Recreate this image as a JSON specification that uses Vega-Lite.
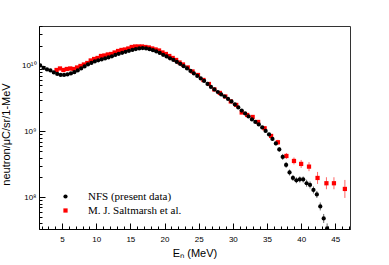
{
  "$schema": "https://vega.github.io/schema/vega-lite/v6.json",
  "width": 311,
  "height": 203,
  "autosize": {"type": "none"},
  "padding": {"left": 39, "top": 26, "right": 39, "bottom": 36},
  "background": "white",
  "config": {
    "view": {"stroke": "#333", "strokeWidth": 1},
    "axis": {"labelFont": "Liberation Sans", "titleFont": "Liberation Sans", "labelColor": "black", "titleColor": "black", "tickColor": "black", "domainColor": "black", "grid": false, "titleFontWeight": "normal"}
  },
  "data": {"values": [
    {"s": "M. J. Saltmarsh et al.", "E": 4.2, "v": 8.60e9},
    {"s": "M. J. Saltmarsh et al.", "E": 4.7, "v": 9.07e9},
    {"s": "M. J. Saltmarsh et al.", "E": 5.2, "v": 8.60e9},
    {"s": "M. J. Saltmarsh et al.", "E": 5.7, "v": 8.91e9},
    {"s": "M. J. Saltmarsh et al.", "E": 6.2, "v": 9.07e9},
    {"s": "M. J. Saltmarsh et al.", "E": 6.7, "v": 8.91e9},
    {"s": "M. J. Saltmarsh et al.", "E": 7.2, "v": 9.39e9},
    {"s": "M. J. Saltmarsh et al.", "E": 7.7, "v": 9.90e9},
    {"s": "M. J. Saltmarsh et al.", "E": 8.2, "v": 1.043e10},
    {"s": "M. J. Saltmarsh et al.", "E": 8.7, "v": 1.099e10},
    {"s": "M. J. Saltmarsh et al.", "E": 9.2, "v": 1.200e10},
    {"s": "M. J. Saltmarsh et al.", "E": 9.7, "v": 1.264e10},
    {"s": "M. J. Saltmarsh et al.", "E": 10.2, "v": 1.309e10},
    {"s": "M. J. Saltmarsh et al.", "E": 10.7, "v": 1.404e10},
    {"s": "M. J. Saltmarsh et al.", "E": 11.2, "v": 1.429e10},
    {"s": "M. J. Saltmarsh et al.", "E": 11.7, "v": 1.480e10},
    {"s": "M. J. Saltmarsh et al.", "E": 12.2, "v": 1.506e10},
    {"s": "M. J. Saltmarsh et al.", "E": 12.7, "v": 1.587e10},
    {"s": "M. J. Saltmarsh et al.", "E": 13.2, "v": 1.673e10},
    {"s": "M. J. Saltmarsh et al.", "E": 13.7, "v": 1.733e10},
    {"s": "M. J. Saltmarsh et al.", "E": 14.2, "v": 1.763e10},
    {"s": "M. J. Saltmarsh et al.", "E": 14.7, "v": 1.826e10},
    {"s": "M. J. Saltmarsh et al.", "E": 15.2, "v": 1.924e10},
    {"s": "M. J. Saltmarsh et al.", "E": 15.7, "v": 1.958e10},
    {"s": "M. J. Saltmarsh et al.", "E": 16.2, "v": 1.958e10},
    {"s": "M. J. Saltmarsh et al.", "E": 16.7, "v": 1.958e10},
    {"s": "M. J. Saltmarsh et al.", "E": 17.2, "v": 1.924e10},
    {"s": "M. J. Saltmarsh et al.", "E": 17.7, "v": 1.891e10},
    {"s": "M. J. Saltmarsh et al.", "E": 18.2, "v": 1.826e10},
    {"s": "M. J. Saltmarsh et al.", "E": 18.7, "v": 1.763e10},
    {"s": "M. J. Saltmarsh et al.", "E": 19.2, "v": 1.702e10},
    {"s": "M. J. Saltmarsh et al.", "E": 19.7, "v": 1.587e10},
    {"s": "M. J. Saltmarsh et al.", "E": 20.2, "v": 1.506e10},
    {"s": "M. J. Saltmarsh et al.", "E": 20.7, "v": 1.404e10},
    {"s": "M. J. Saltmarsh et al.", "E": 21.2, "v": 1.309e10},
    {"s": "M. J. Saltmarsh et al.", "E": 21.7, "v": 1.221e10},
    {"s": "M. J. Saltmarsh et al.", "E": 22.2, "v": 1.118e10},
    {"s": "M. J. Saltmarsh et al.", "E": 22.7, "v": 1.043e10},
    {"s": "M. J. Saltmarsh et al.", "E": 23.4, "v": 9.39e9},
    {"s": "M. J. Saltmarsh et al.", "E": 24.1, "v": 8.16e9},
    {"s": "M. J. Saltmarsh et al.", "E": 24.9, "v": 7.22e9},
    {"s": "M. J. Saltmarsh et al.", "E": 25.7, "v": 6.06e9},
    {"s": "M. J. Saltmarsh et al.", "E": 26.5, "v": 5.27e9},
    {"s": "M. J. Saltmarsh et al.", "E": 27.3, "v": 4.35e9},
    {"s": "M. J. Saltmarsh et al.", "E": 28.1, "v": 3.85e9},
    {"s": "M. J. Saltmarsh et al.", "E": 28.9, "v": 3.40e9},
    {"s": "M. J. Saltmarsh et al.", "E": 29.7, "v": 2.86e9},
    {"s": "M. J. Saltmarsh et al.", "E": 30.5, "v": 2.53e9},
    {"s": "M. J. Saltmarsh et al.", "E": 31.3, "v": 1.943e9},
    {"s": "M. J. Saltmarsh et al.", "E": 32.1, "v": 1.781e9},
    {"s": "M. J. Saltmarsh et al.", "E": 32.9, "v": 1.661e9},
    {"s": "M. J. Saltmarsh et al.", "E": 33.7, "v": 1.394e9},
    {"s": "M. J. Saltmarsh et al.", "E": 34.65, "v": 1.118e9},
    {"s": "M. J. Saltmarsh et al.", "E": 35.6, "v": 8.54e8},
    {"s": "M. J. Saltmarsh et al.", "E": 36.6, "v": 6.85e8, "lo": 6.28e8, "hi": 7.47e8},
    {"s": "M. J. Saltmarsh et al.", "E": 37.84, "v": 4.24e8, "lo": 3.82e8, "hi": 4.71e8},
    {"s": "M. J. Saltmarsh et al.", "E": 38.95, "v": 3.56e8, "lo": 3.15e8, "hi": 4.02e8},
    {"s": "M. J. Saltmarsh et al.", "E": 40.0, "v": 3.21e8, "lo": 2.79e8, "hi": 3.69e8},
    {"s": "M. J. Saltmarsh et al.", "E": 41.15, "v": 2.92e8, "lo": 2.49e8, "hi": 3.42e8},
    {"s": "M. J. Saltmarsh et al.", "E": 42.4, "v": 1.964e8, "lo": 1.592e8, "hi": 2.424e8},
    {"s": "M. J. Saltmarsh et al.", "E": 43.7, "v": 1.632e8, "lo": 1.323e8, "hi": 2.014e8},
    {"s": "M. J. Saltmarsh et al.", "E": 44.8, "v": 1.632e8, "lo": 1.323e8, "hi": 2.014e8},
    {"s": "M. J. Saltmarsh et al.", "E": 46.4, "v": 1.337e8, "lo": 0.976e8, "hi": 1.832e8},
    {"s": "NFS (present data)", "E": 1.8, "v": 1.007e10},
    {"s": "NFS (present data)", "E": 2.3, "v": 9.23e9},
    {"s": "NFS (present data)", "E": 2.8, "v": 8.75e9},
    {"s": "NFS (present data)", "E": 3.3, "v": 8.46e9},
    {"s": "NFS (present data)", "E": 3.8, "v": 7.88e9},
    {"s": "NFS (present data)", "E": 4.3, "v": 7.48e9},
    {"s": "NFS (present data)", "E": 4.8, "v": 7.22e9},
    {"s": "NFS (present data)", "E": 5.3, "v": 7.22e9},
    {"s": "NFS (present data)", "E": 5.8, "v": 7.35e9},
    {"s": "NFS (present data)", "E": 6.3, "v": 7.61e9},
    {"s": "NFS (present data)", "E": 6.8, "v": 7.97e9},
    {"s": "NFS (present data)", "E": 7.3, "v": 8.46e9},
    {"s": "NFS (present data)", "E": 7.8, "v": 9.07e9},
    {"s": "NFS (present data)", "E": 8.3, "v": 9.72e9},
    {"s": "NFS (present data)", "E": 8.8, "v": 1.043e10},
    {"s": "NFS (present data)", "E": 9.3, "v": 1.099e10},
    {"s": "NFS (present data)", "E": 9.8, "v": 1.158e10},
    {"s": "NFS (present data)", "E": 10.3, "v": 1.204e10},
    {"s": "NFS (present data)", "E": 10.8, "v": 1.246e10},
    {"s": "NFS (present data)", "E": 11.3, "v": 1.291e10},
    {"s": "NFS (present data)", "E": 11.8, "v": 1.337e10},
    {"s": "NFS (present data)", "E": 12.3, "v": 1.389e10},
    {"s": "NFS (present data)", "E": 12.8, "v": 1.454e10},
    {"s": "NFS (present data)", "E": 13.3, "v": 1.517e10},
    {"s": "NFS (present data)", "E": 13.8, "v": 1.571e10},
    {"s": "NFS (present data)", "E": 14.3, "v": 1.627e10},
    {"s": "NFS (present data)", "E": 14.8, "v": 1.679e10},
    {"s": "NFS (present data)", "E": 15.3, "v": 1.733e10},
    {"s": "NFS (present data)", "E": 15.8, "v": 1.788e10},
    {"s": "NFS (present data)", "E": 16.3, "v": 1.832e10},
    {"s": "NFS (present data)", "E": 16.8, "v": 1.852e10},
    {"s": "NFS (present data)", "E": 17.3, "v": 1.826e10},
    {"s": "NFS (present data)", "E": 17.8, "v": 1.782e10},
    {"s": "NFS (present data)", "E": 18.3, "v": 1.720e10},
    {"s": "NFS (present data)", "E": 18.8, "v": 1.644e10},
    {"s": "NFS (present data)", "E": 19.3, "v": 1.560e10},
    {"s": "NFS (present data)", "E": 19.8, "v": 1.465e10},
    {"s": "NFS (present data)", "E": 20.3, "v": 1.380e10},
    {"s": "NFS (present data)", "E": 20.8, "v": 1.296e10},
    {"s": "NFS (present data)", "E": 21.3, "v": 1.221e10},
    {"s": "NFS (present data)", "E": 21.8, "v": 1.138e10},
    {"s": "NFS (present data)", "E": 22.3, "v": 1.061e10},
    {"s": "NFS (present data)", "E": 22.8, "v": 9.83e9},
    {"s": "NFS (present data)", "E": 23.3, "v": 9.07e9},
    {"s": "NFS (present data)", "E": 23.8, "v": 8.31e9},
    {"s": "NFS (present data)", "E": 24.3, "v": 7.61e9},
    {"s": "NFS (present data)", "E": 24.8, "v": 6.97e9},
    {"s": "NFS (present data)", "E": 25.3, "v": 6.39e9},
    {"s": "NFS (present data)", "E": 25.8, "v": 5.85e9},
    {"s": "NFS (present data)", "E": 26.3, "v": 5.27e9},
    {"s": "NFS (present data)", "E": 26.8, "v": 4.75e9},
    {"s": "NFS (present data)", "E": 27.3, "v": 4.35e9},
    {"s": "NFS (present data)", "E": 27.8, "v": 3.98e9},
    {"s": "NFS (present data)", "E": 28.3, "v": 3.65e9},
    {"s": "NFS (present data)", "E": 28.8, "v": 3.40e9},
    {"s": "NFS (present data)", "E": 29.3, "v": 3.12e9},
    {"s": "NFS (present data)", "E": 29.8, "v": 2.86e9},
    {"s": "NFS (present data)", "E": 30.3, "v": 2.57e9},
    {"s": "NFS (present data)", "E": 30.8, "v": 2.32e9},
    {"s": "NFS (present data)", "E": 31.3, "v": 2.08e9},
    {"s": "NFS (present data)", "E": 31.8, "v": 1.877e9},
    {"s": "NFS (present data)", "E": 32.3, "v": 1.690e9},
    {"s": "NFS (present data)", "E": 32.8, "v": 1.522e9},
    {"s": "NFS (present data)", "E": 33.3, "v": 1.394e9},
    {"s": "NFS (present data)", "E": 33.8, "v": 1.278e9},
    {"s": "NFS (present data)", "E": 34.3, "v": 1.150e9},
    {"s": "NFS (present data)", "E": 34.8, "v": 1.018e9},
    {"s": "NFS (present data)", "E": 35.3, "v": 9.00e8},
    {"s": "NFS (present data)", "E": 35.8, "v": 7.69e8, "lo": 7.17e8, "hi": 8.24e8},
    {"s": "NFS (present data)", "E": 36.3, "v": 6.57e8, "lo": 6.13e8, "hi": 7.04e8},
    {"s": "NFS (present data)", "E": 36.8, "v": 5.32e8, "lo": 4.88e8, "hi": 5.80e8},
    {"s": "NFS (present data)", "E": 37.3, "v": 4.10e8, "lo": 3.69e8, "hi": 4.56e8},
    {"s": "NFS (present data)", "E": 37.8, "v": 3.10e8, "lo": 2.79e8, "hi": 3.44e8},
    {"s": "NFS (present data)", "E": 38.3, "v": 2.38e8, "lo": 2.14e8, "hi": 2.64e8},
    {"s": "NFS (present data)", "E": 38.8, "v": 1.964e8, "lo": 1.768e8, "hi": 2.182e8},
    {"s": "NFS (present data)", "E": 39.3, "v": 1.812e8, "lo": 1.631e8, "hi": 2.013e8},
    {"s": "NFS (present data)", "E": 39.8, "v": 1.863e8, "lo": 1.677e8, "hi": 2.070e8},
    {"s": "NFS (present data)", "E": 40.3, "v": 1.863e8, "lo": 1.677e8, "hi": 2.070e8},
    {"s": "NFS (present data)", "E": 40.8, "v": 1.632e8, "lo": 1.444e8, "hi": 1.844e8},
    {"s": "NFS (present data)", "E": 41.3, "v": 1.537e8, "lo": 1.360e8, "hi": 1.737e8},
    {"s": "NFS (present data)", "E": 41.8, "v": 1.291e8, "lo": 1.142e8, "hi": 1.459e8},
    {"s": "NFS (present data)", "E": 42.3, "v": 1.102e8, "lo": 0.975e8, "hi": 1.245e8},
    {"s": "NFS (present data)", "E": 42.8, "v": 7.24e7, "lo": 6.30e7, "hi": 8.33e7},
    {"s": "NFS (present data)", "E": 43.3, "v": 4.76e7, "lo": 4.06e7, "hi": 5.57e7},
    {"s": "NFS (present data)", "E": 43.8, "v": 3.36e7, "lo": 2.82e7, "hi": 4.00e7}
  ]},
  "layer": [
    {
      "transform": [{"filter": "isValid(datum.lo)"}],
      "mark": {"type": "rule", "opacity": 0.6, "strokeWidth": 1, "clip": true},
      "encoding": {
        "x": {"field": "E", "type": "quantitative", "scale": {"domain": [1.63, 47.15], "nice": false, "zero": false},
              "axis": {"orient": "bottom", "values": [2,3,4,6,7,8,9,11,12,13,14,16,17,18,19,21,22,23,24,26,27,28,29,31,32,33,34,36,37,38,39,41,42,43,44,46,47], "labels": false, "domain": false, "tickSize": -3, "title": null}},
        "y": {"field": "lo", "type": "quantitative", "scale": {"type": "log", "domain": [3.29e7, 4.01e10], "nice": false},
              "axis": {"orient": "left", "values": [4e7,5e7,6e7,7e7,8e7,9e7,2e8,3e8,4e8,5e8,6e8,7e8,8e8,9e8,2e9,3e9,4e9,5e9,6e9,7e9,8e9,9e9,2e10,3e10,4e10], "labels": false, "domain": false, "tickSize": -3, "title": null}},
        "y2": {"field": "hi"},
        "color": {"field": "s", "type": "nominal", "legend": null,
                  "scale": {"domain": ["NFS (present data)", "M. J. Saltmarsh et al."], "range": ["#000000", "#ff0000"]}}
      }
    },
    {
      "mark": {"type": "point", "filled": true, "opacity": 1, "size": 18, "clip": true},
      "encoding": {
        "x": {"field": "E", "type": "quantitative", "scale": {"domain": [1.63, 47.15], "nice": false, "zero": false},
              "axis": {"orient": "bottom", "values": [5,10,15,20,25,30,35,40,45], "tickSize": -6, "labelPadding": 12, "labelFontSize": 8, "domain": true, "title": "Eₙ (MeV)", "titleFontSize": 11, "titlePadding": 4}},
        "y": {"field": "v", "type": "quantitative", "scale": {"type": "log", "domain": [3.29e7, 4.01e10], "nice": false},
              "axis": {"orient": "left", "values": [1e8, 1e9, 1e10], "labelExpr": "datum.value < 5e8 ? '10⁸' : (datum.value < 5e9 ? '10⁹' : '10¹⁰')", "tickSize": -6, "labelPadding": 9, "labelFontSize": 8, "domain": true, "title": "neutron/μC/sr/1-MeV", "titleFontSize": 11, "titleX": -28, "titleY": 108, "titleAnchor": "middle"}},
        "color": {"field": "s", "type": "nominal",
                  "scale": {"domain": ["NFS (present data)", "M. J. Saltmarsh et al."], "range": ["#000000", "#ff0000"]},
                  "legend": {"orient": "none", "legendX": 21, "legendY": 165, "title": null, "labelFont": "Liberation Serif", "labelFontSize": 11, "labelColor": "black", "symbolSize": 18, "padding": 0, "rowPadding": 2, "labelOffset": 17}},
        "shape": {"field": "s", "type": "nominal",
                  "scale": {"domain": ["NFS (present data)", "M. J. Saltmarsh et al."], "range": ["circle", "square"]}}
      }
    }
  ],
  "resolve": {"axis": {"x": "independent", "y": "independent"}, "legend": {"color": "independent", "shape": "independent"}}
}
